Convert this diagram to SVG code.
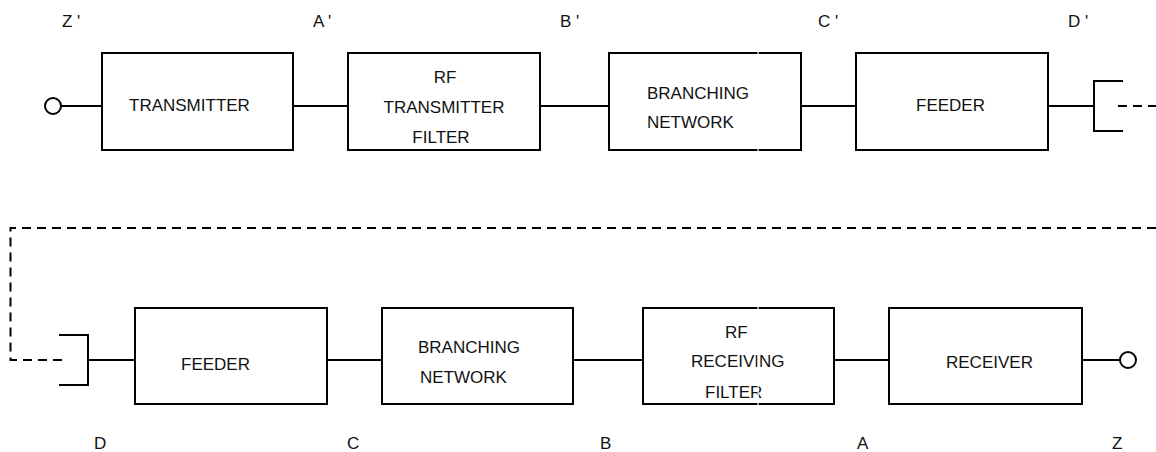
<svg xmlns="http://www.w3.org/2000/svg" width="1156" height="452" viewBox="0 0 1156 452">
  <style>
    .box { fill: #fff; stroke: #000; stroke-width: 2; }
    .wire { fill: none; stroke: #000; stroke-width: 2; }
    .dash { fill: none; stroke: #000; stroke-width: 2; stroke-dasharray: 9 6; }
    .term { fill: #fff; stroke: #000; stroke-width: 2; }
    text { font-family: "Liberation Sans", Arial, sans-serif; font-size: 17px; fill: #111; }
    .mid { text-anchor: middle; }
  </style>
  <rect width="1156" height="452" fill="#fff"/>

  <!-- connectors: signal path, antenna brackets and the radio hop -->
  <g id="connectors">
    <!-- transmit chain -->
    <circle class="term" cx="53" cy="106" r="8"/>
    <line class="wire" x1="61" y1="106" x2="102" y2="106"/>
    <line class="wire" x1="293" y1="106" x2="348" y2="106"/>
    <line class="wire" x1="540" y1="106" x2="609" y2="106"/>
    <line class="wire" x1="801" y1="106" x2="856" y2="106"/>
    <line class="wire" x1="1048" y1="106" x2="1094" y2="106"/>
    <path class="wire" d="M1123,81 H1094 V131 H1123"/>
    <line class="dash" x1="1118" y1="106" x2="1156" y2="106"/>
    <!-- radio path back to receiving antenna -->
    <path class="dash" d="M1156,228 H10.5 V360 H67"/>
    <!-- receive chain -->
    <path class="wire" d="M59,335 H88 V385 H59"/>
    <line class="wire" x1="88" y1="360" x2="135" y2="360"/>
    <line class="wire" x1="327" y1="360" x2="382" y2="360"/>
    <line class="wire" x1="573" y1="360" x2="643" y2="360"/>
    <line class="wire" x1="834" y1="360" x2="889" y2="360"/>
    <line class="wire" x1="1082" y1="360" x2="1120" y2="360"/>
    <circle class="term" cx="1128" cy="360" r="8"/>
  </g>

  <!-- transmit side -->
  <g id="transmitter">
    <rect class="box" x="102" y="53" width="191" height="97"/>
    <text x="129" y="111">TRANSMITTER</text>
  </g>
  <g id="rf-transmitter-filter">
    <rect class="box" x="348" y="53" width="192" height="97"/>
    <text class="mid" x="445" y="83">RF</text>
    <text class="mid" x="444" y="113">TRANSMITTER</text>
    <text class="mid" x="441" y="143">FILTER</text>
  </g>
  <g id="tx-branching-network">
    <rect class="box" x="609" y="53" width="192" height="97"/>
    <text x="647" y="99">BRANCHING</text>
    <text x="647" y="128">NETWORK</text>
  </g>
  <g id="tx-feeder">
    <rect class="box" x="856" y="53" width="192" height="97"/>
    <text x="916" y="111">FEEDER</text>
  </g>

  <!-- receive side -->
  <g id="rx-feeder">
    <rect class="box" x="135" y="308" width="192" height="96"/>
    <text x="181" y="370">FEEDER</text>
  </g>
  <g id="rx-branching-network">
    <rect class="box" x="382" y="308" width="191" height="96"/>
    <text x="418" y="353">BRANCHING</text>
    <text x="420" y="383">NETWORK</text>
  </g>
  <g id="rf-receiving-filter">
    <rect class="box" x="643" y="308" width="191" height="96"/>
    <text x="725" y="338">RF</text>
    <text x="691" y="367">RECEIVING</text>
    <text x="705" y="398">FILTER</text>
  </g>
  <g id="receiver">
    <rect class="box" x="889" y="308" width="193" height="96"/>
    <text x="946" y="368">RECEIVER</text>
  </g>

  <!-- thin seam through the middle column -->
  <rect x="757.5" y="45" width="1.2" height="112" fill="#fff"/>
  <rect x="757.5" y="300" width="1.2" height="112" fill="#fff"/>

  <!-- reference point labels -->
  <g id="point-labels">
    <text x="62" y="27">Z '</text>
    <text x="313" y="27">A '</text>
    <text x="560" y="27">B '</text>
    <text x="818" y="27">C '</text>
    <text x="1068" y="27">D '</text>
    <text x="94" y="449">D</text>
    <text x="347" y="449">C</text>
    <text x="600" y="449">B</text>
    <text x="857" y="449">A</text>
    <text x="1112" y="449">Z</text>
  </g>
</svg>
